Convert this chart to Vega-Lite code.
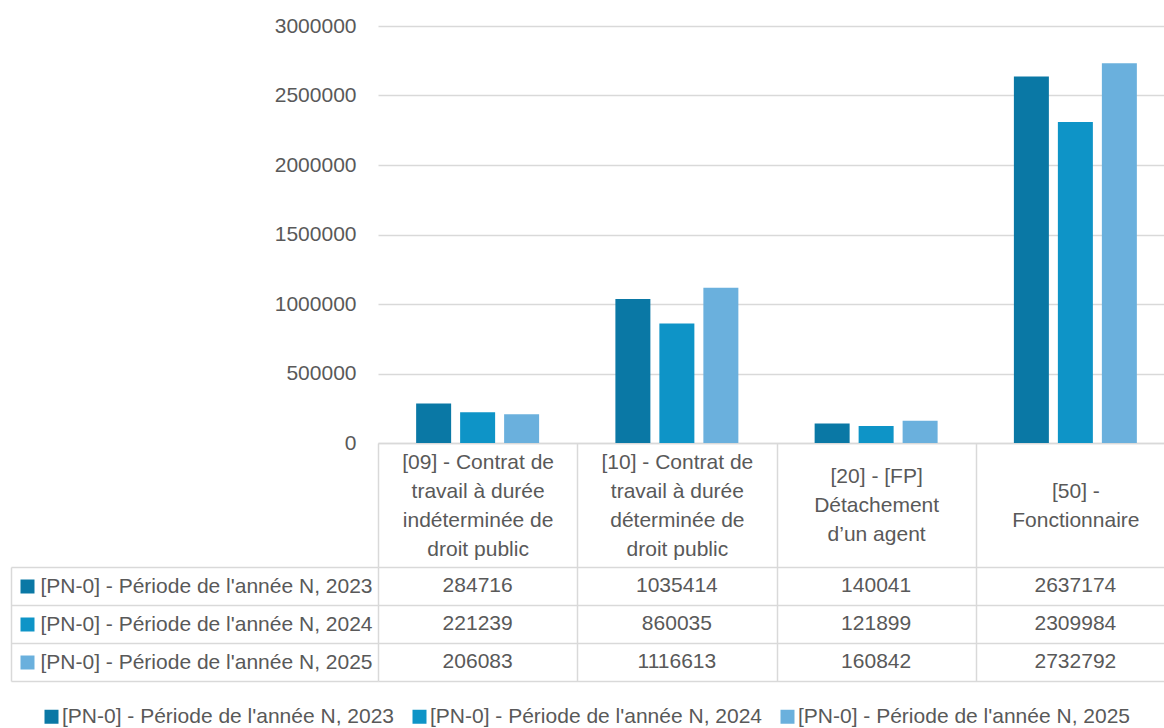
{
  "$schema": "https://vega.github.io/schema/vega-lite/v6.json",
  "padding": {"left": 10, "top": 15, "right": 0, "bottom": 5},
  "config": {
    "font": "Liberation Sans",
    "view": {"stroke": null},
    "axis": {"labelColor": "#595959", "labelFontSize": 21, "gridColor": "#d9d9d9", "tickColor": "#d9d9d9", "domainColor": "#d9d9d9"},
    "legend": {"labelColor": "#595959", "labelFontSize": 21}
  },
  "data": {"values": [
    {"cat": "[09] - Contrat de travail à durée indéterminée de droit public", "series": "[PN-0] - Période de l'année N, 2023", "value": 284716},
    {"cat": "[09] - Contrat de travail à durée indéterminée de droit public", "series": "[PN-0] - Période de l'année N, 2024", "value": 221239},
    {"cat": "[09] - Contrat de travail à durée indéterminée de droit public", "series": "[PN-0] - Période de l'année N, 2025", "value": 206083},
    {"cat": "[10] - Contrat de travail à durée déterminée de droit public", "series": "[PN-0] - Période de l'année N, 2023", "value": 1035414},
    {"cat": "[10] - Contrat de travail à durée déterminée de droit public", "series": "[PN-0] - Période de l'année N, 2024", "value": 860035},
    {"cat": "[10] - Contrat de travail à durée déterminée de droit public", "series": "[PN-0] - Période de l'année N, 2025", "value": 1116613},
    {"cat": "[20] - [FP] Détachement d’un agent", "series": "[PN-0] - Période de l'année N, 2023", "value": 140041},
    {"cat": "[20] - [FP] Détachement d’un agent", "series": "[PN-0] - Période de l'année N, 2024", "value": 121899},
    {"cat": "[20] - [FP] Détachement d’un agent", "series": "[PN-0] - Période de l'année N, 2025", "value": 160842},
    {"cat": "[50] - Fonctionnaire", "series": "[PN-0] - Période de l'année N, 2023", "value": 2637174},
    {"cat": "[50] - Fonctionnaire", "series": "[PN-0] - Période de l'année N, 2024", "value": 2309984},
    {"cat": "[50] - Fonctionnaire", "series": "[PN-0] - Période de l'année N, 2025", "value": 2732792}
  ]},
  "bounds": "flush",
  "spacing": 124,
  "vconcat": [
    {
      "width": 797,
      "height": 417,
      "mark": {"type": "bar"},
      "encoding": {
        "x": {
          "field": "cat", "type": "nominal",
          "sort": ["[09] - Contrat de travail à durée indéterminée de droit public", "[10] - Contrat de travail à durée déterminée de droit public", "[20] - [FP] Détachement d’un agent", "[50] - Fonctionnaire"],
          "scale": {"paddingInner": 0, "paddingOuter": 0},
          "axis": {
            "title": null, "labelAngle": 0, "domain": true, "domainWidth": 1.5, "ticks": true, "tickBand": "extent", "tickSize": 124, "tickWidth": 1.5,
            "labelPadding": -105,
            "labelBaseline": "middle", "labelLineHeight": 14.5, "labelLimit": 0,
            "labelExpr": "{'[09] - Contrat de travail à durée indéterminée de droit public': ['[09] - Contrat de', '\u200b', 'travail à durée', '\u200b', 'indéterminée de', '\u200b', 'droit public'], '[10] - Contrat de travail à durée déterminée de droit public': ['[10] - Contrat de', '\u200b', 'travail à durée', '\u200b', 'déterminée de', '\u200b', 'droit public'], '[20] - [FP] Détachement d’un agent': ['\u200b', '[20] - [FP]', '\u200b', 'Détachement', '\u200b', 'd’un agent'], '[50] - Fonctionnaire': ['\u200b', '\u200b', '[50] -', '\u200b', 'Fonctionnaire']}[datum.value]"
          }
        },
        "xOffset": {
          "field": "series", "type": "nominal",
          "sort": ["[PN-0] - Période de l'année N, 2023", "[PN-0] - Période de l'année N, 2024", "[PN-0] - Période de l'année N, 2025"],
          "scale": {"paddingInner": 0.2045, "paddingOuter": 0.867}
        },
        "y": {
          "field": "value", "type": "quantitative",
          "scale": {"domain": [0, 3000000]},
          "axis": {"title": null, "values": [0, 500000, 1000000, 1500000, 2000000, 2500000, 3000000], "format": "d", "domain": false, "ticks": false, "labelPadding": 22, "gridWidth": 1.5}
        },
        "color": {
          "field": "series", "type": "nominal",
          "sort": ["[PN-0] - Période de l'année N, 2023", "[PN-0] - Période de l'année N, 2024", "[PN-0] - Période de l'année N, 2025"],
          "scale": {"range": ["#0A78A5", "#0E94C7", "#6AB0DD"]},
          "legend": {"orient": "none", "legendX": -337, "legendY": 680, "direction": "horizontal", "title": null, "symbolType": "square", "symbolSize": 196, "symbolStrokeWidth": 0, "labelLimit": 0, "columnPadding": 14, "labelOffset": 0}
        }
      }
    },
    {
      "width": 797,
      "height": 114,
      "resolve": {"scale": {"y": "independent"}, "axis": {"y": "independent"}},
      "layer": [
        {
          "mark": {"type": "text", "fontSize": 21, "color": "#595959", "baseline": "middle"},
          "encoding": {
            "x": {
              "field": "cat", "type": "nominal",
              "sort": ["[09] - Contrat de travail à durée indéterminée de droit public", "[10] - Contrat de travail à durée déterminée de droit public", "[20] - [FP] Détachement d’un agent", "[50] - Fonctionnaire"],
              "scale": {"paddingInner": 0, "paddingOuter": 0},
              "axis": {"title": null, "labels": false, "ticks": false, "domain": false, "grid": true, "tickBand": "extent", "gridWidth": 1.5}
            },
            "y": {
              "field": "series", "type": "nominal",
              "sort": ["[PN-0] - Période de l'année N, 2023", "[PN-0] - Période de l'année N, 2024", "[PN-0] - Période de l'année N, 2025"],
              "scale": {"paddingInner": 0, "paddingOuter": 0},
              "axis": {"orient": "left", "title": null, "domain": false, "grid": true, "gridWidth": 1.5, "tickBand": "extent", "ticks": true, "tickSize": 367, "tickWidth": 1.5, "labelAlign": "left", "labelBaseline": "middle", "labelPadding": -29, "labelLimit": 0}
            },
            "text": {"field": "value", "type": "quantitative", "format": "d"}
          }
        },
        {
          "mark": {"type": "point", "opacity": 0},
          "encoding": {
            "x": {"field": "cat", "type": "nominal"},
            "y": {
              "field": "series", "type": "nominal",
              "sort": ["[PN-0] - Période de l'année N, 2023", "[PN-0] - Période de l'année N, 2024", "[PN-0] - Période de l'année N, 2025"],
              "scale": {"paddingInner": 0, "paddingOuter": 0},
              "axis": {"orient": "left", "offset": 344, "title": null, "domain": false, "grid": false, "labels": false, "ticks": true, "tickSize": 14, "tickWidth": 14,
                "tickColor": {"condition": [{"test": "datum.value === \"[PN-0] - Période de l'année N, 2023\"", "value": "#0A78A5"}, {"test": "datum.value === \"[PN-0] - Période de l'année N, 2024\"", "value": "#0E94C7"}], "value": "#6AB0DD"}}
            }
          }
        },
        {
          "mark": {"type": "point", "opacity": 0},
          "encoding": {
            "x": {"field": "cat", "type": "nominal"},
            "y": {
              "field": "series", "type": "nominal",
              "sort": ["[PN-0] - Période de l'année N, 2023", "[PN-0] - Période de l'année N, 2024", "[PN-0] - Période de l'année N, 2025"],
              "scale": {"paddingInner": 0, "paddingOuter": 0},
              "axis": {"orient": "left", "offset": 367, "title": null, "domain": true, "domainWidth": 1.5, "grid": false, "labels": false, "ticks": false}
            }
          }
        }
      ]
    }
  ]
}
